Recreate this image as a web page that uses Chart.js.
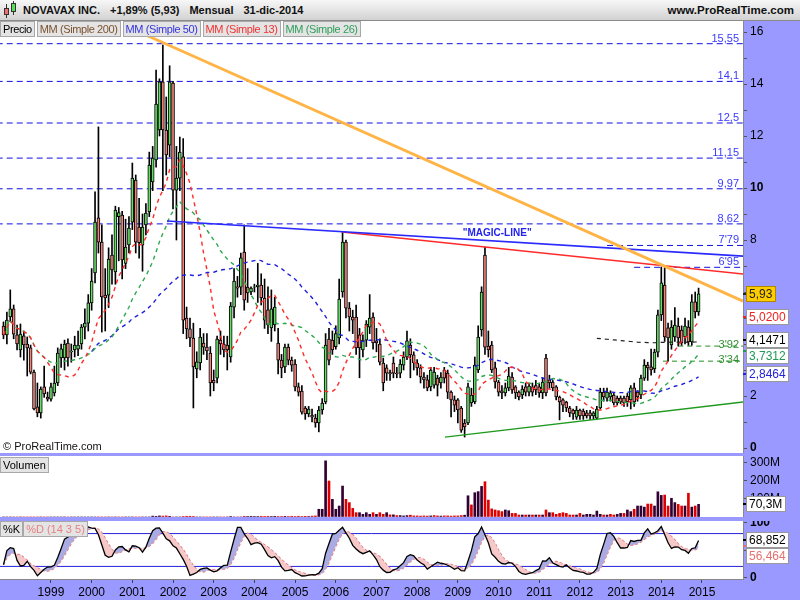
<!DOCTYPE html>
<html>
<head>
<meta charset="utf-8">
<title>NOVAVAX INC. - Mensual</title>
<script src="https://cdn.jsdelivr.net/npm/chart.js@4.4.1/dist/chart.umd.min.js"></script>
<style>
  body { margin:0; width:800px; height:600px; overflow:hidden; position:relative; background:#9999ff; font-family:"Liberation Sans", Arial, sans-serif; }
  #top { position:absolute; left:0; top:0; width:800px; height:21px; background:linear-gradient(#f7f7f7,#d2d2d2); border-bottom:1px solid #8a8a8a; box-sizing:border-box; }
  #title { position:absolute; left:23px; top:4px; font-size:11px; font-weight:bold; color:#111; white-space:nowrap; }
  #title span { margin-right:10px; }
  #site { position:absolute; right:6px; top:4px; font-size:11.5px; font-weight:bold; color:#111; }
  .ico { position:absolute; box-sizing:border-box; border:1px solid #333; }
  .wk { position:absolute; width:1px; background:#333; }
  canvas { position:absolute; left:0; }
  .boxes { position:absolute; left:0; display:flex; z-index:2; }
  .box { height:16px; line-height:15px; font-size:11px; letter-spacing:-0.4px; padding:0 2px; margin-right:2px; background:#e4e4e4; border:1px solid #a8a8a8; box-sizing:border-box; white-space:nowrap; }
  #copy { position:absolute; left:3px; top:440px; font-size:11px; color:#111; z-index:2; }
</style>
</head>
<body>
<div id="top">
  <div class="wk" style="left:6px;top:4px;height:14px"></div>
  <div class="ico" style="left:4px;top:8px;width:5px;height:7px;background:#f07070"></div>
  <div class="wk" style="left:13px;top:1px;height:14px"></div>
  <div class="ico" style="left:11px;top:3px;width:5px;height:9px;background:#55dd55"></div>
  <div id="title"><span>NOVAVAX INC.</span><span>+1,89% (5,93)</span><span>Mensual</span><span>31-dic-2014</span></div>
  <div id="site">www.ProRealTime.com</div>
</div>
<div class="boxes" style="top:21px">
  <div class="box" style="color:#000">Precio</div>
  <div class="box" style="color:#7a5230">MM (Simple 200)</div>
  <div class="box" style="color:#3333dd">MM (Simple 50)</div>
  <div class="box" style="color:#ee3333">MM (Simple 13)</div>
  <div class="box" style="color:#2e9e5a">MM (Simple 26)</div>
</div>
<div id="copy">© ProRealTime.com</div>
<div class="boxes" style="top:457px"><div class="box" style="letter-spacing:0">Volumen</div></div>
<div class="boxes" style="top:521px"><div class="box" style="margin-right:0;letter-spacing:0">%K</div><div class="box" style="color:#e88080;letter-spacing:0">%D (14 3 5)</div></div>

<canvas id="price" width="800" height="432" style="top:21px"></canvas>
<canvas id="vol" width="800" height="61" style="top:456px"></canvas>
<canvas id="stoch" width="800" height="79" style="top:521px"></canvas>

<script>
// Monthly candles, Nov 1997 .. Dec 2014 (one row per calendar year)
const opens = [
  4.69, 4.35,
  5.04, 5.35, 4.35, 3.77, 4.31, 4.0, 3.85, 2.92, 1.58, 1.35, 2.35, 1.96,
  1.88, 2.12, 2.5, 3.46, 3.46, 4.04, 3.7, 3.77, 3.8, 4.0, 4.65, 4.8,
  5.58, 6.73, 8.85, 7.92, 5.88, 5.88, 7.42, 6.77, 8.9, 8.96, 7.1, 7.81,
  8.69, 10.3, 8.5, 7.8, 8.58, 9.08, 10.23, 11.08, 12.23, 14.08, 12.23, 11.65,
  14.04, 9.92, 10.38, 11.2, 5.0, 4.58, 4.23, 3.04, 3.27, 4.04, 3.88, 3.65,
  2.6, 2.69, 4.15, 4.0, 3.96, 3.5, 5.42, 6.2, 6.19, 7.54, 6.19, 6.0,
  6.19, 6.2, 6.27, 5.77, 5.31, 4.62, 4.73, 4.04, 3.38, 3.12, 3.88, 3.38,
  3.23, 2.35, 2.19, 1.54, 1.31, 1.27, 1.15, 0.96, 1.46, 1.77, 4.19, 4.15,
  3.9, 4.23, 6.0, 7.92, 5.38, 5.04, 5.04, 4.35, 3.77, 4.15, 4.65, 5.04,
  4.12, 4.0, 3.27, 3.08, 2.9, 3.27, 2.88, 2.88, 3.19, 3.5, 3.96, 3.58,
  3.27, 3.08, 2.73, 2.62, 2.35, 2.42, 2.69, 2.5, 3.0, 2.88, 2.15, 1.85,
  1.85, 1.54, 0.96, 0.96, 1.73, 1.77, 3.0, 4.54, 7.42, 3.92, 3.96, 3.08,
  2.54, 2.2, 2.12, 2.31, 2.73, 2.35, 2.15, 2.04, 2.35, 2.15, 2.35, 2.4,
  2.35, 2.12, 3.46, 2.62, 2.54, 2.35, 1.96, 1.85, 1.77, 1.54, 1.46, 1.19,
  1.46, 1.42, 1.35, 1.35, 1.23, 1.15, 1.54, 2.15, 1.92, 1.96, 2.04, 1.92,
  1.92, 1.92, 2.0, 1.85, 2.31, 2.15, 2.04, 2.69, 3.19, 3.12, 3.04, 3.69,
  5.12, 6.27, 4.62, 3.96, 4.27, 4.69, 4.54, 4.27, 4.65, 4.08, 5.62, 5.23
];
const highs = [
  4.85, 5.23,
  6.08, 5.5, 4.73, 4.77, 4.5, 4.27, 3.96, 3.0, 2.5, 2.35, 3.15, 2.15,
  2.5, 3.15, 3.85, 4.0, 4.15, 4.2, 4.0, 4.3, 4.5, 4.75, 5.35, 5.9,
  6.9, 9.85, 12.35, 8.58, 6.9, 7.7, 8.2, 9.3, 9.25, 9.1, 8.8, 8.9,
  10.96, 10.5, 9.6, 9.0, 9.4, 11.38, 11.6, 14.54, 14.2, 15.5, 13.5, 14.7,
  14.1, 11.6, 11.96, 11.9, 5.42, 5.0, 4.8, 3.7, 4.6, 4.4, 4.4, 3.9,
  3.0, 4.3, 4.5, 4.3, 4.3, 5.6, 6.9, 6.6, 7.5, 8.58, 6.9, 6.2,
  6.3, 7.1, 6.7, 6.5, 6.2, 6.08, 5.8, 4.6, 3.6, 4.0, 4.0, 3.5,
  3.4, 2.5, 2.4, 1.6, 1.6, 1.5, 1.3, 1.6, 1.9, 4.4, 4.6, 4.5,
  4.7, 6.5, 8.31, 8.0, 5.6, 5.3, 5.5, 4.6, 4.35, 4.9, 5.9, 5.2,
  4.6, 4.2, 3.46, 3.2, 3.0, 3.5, 3.1, 3.4, 3.7, 4.5, 4.2, 3.7,
  3.4, 3.2, 2.9, 2.8, 3.1, 3.1, 2.8, 2.9, 3.1, 3.0, 2.2, 2.0,
  1.9, 1.6, 1.1, 2.5, 2.3, 3.5, 4.7, 6.2, 7.73, 4.5, 4.1, 3.3,
  2.6, 2.4, 2.5, 3.1, 2.9, 2.4, 2.2, 2.4, 2.5, 2.5, 2.5, 2.6,
  2.5, 2.7, 3.6, 2.8, 2.6, 2.4, 2.0, 1.9, 1.8, 1.6, 1.5, 1.6,
  1.5, 1.5, 1.45, 1.45, 1.4, 1.6, 2.3, 2.3, 2.3, 2.2, 2.1, 2.0,
  2.0, 2.0, 2.1, 2.4, 2.5, 2.2, 2.8, 3.4, 3.3, 3.8, 3.8, 5.3,
  6.96, 6.92, 4.8, 4.9, 5.4, 5.0, 4.7, 5.0, 4.9, 5.9, 6.0, 6.15
];
const lows = [
  4.2, 4.0,
  4.85, 4.2, 3.77, 3.5, 3.38, 2.77, 2.85, 1.46, 1.2, 1.15, 1.95, 1.8,
  1.8, 2.0, 2.4, 3.1, 3.0, 3.15, 3.3, 3.5, 3.55, 3.8, 4.2, 4.5,
  5.3, 6.35, 7.5, 4.46, 4.5, 5.4, 6.3, 6.3, 7.2, 6.5, 6.9, 7.5,
  8.4, 7.5, 7.3, 6.8, 8.2, 8.9, 9.9, 10.8, 12.0, 9.9, 10.5, 11.2,
  9.2, 8.0, 9.9, 4.4, 4.2, 3.9, 1.54, 2.7, 3.0, 3.6, 3.4, 2.0,
  2.2, 2.5, 3.6, 3.5, 3.0, 3.3, 5.0, 5.8, 5.9, 5.3, 5.6, 5.9,
  6.0, 5.6, 5.5, 4.6, 4.4, 4.1, 4.5, 2.85, 2.7, 2.9, 3.2, 2.95,
  2.2, 2.0, 1.3, 1.1, 1.2, 1.0, 0.8, 0.62, 1.3, 1.7, 3.2, 3.6,
  3.8, 4.0, 5.8, 5.0, 4.5, 4.4, 3.6, 2.7, 3.5, 3.9, 4.4, 3.8,
  3.7, 3.2, 2.2, 2.6, 2.6, 2.7, 2.7, 2.7, 3.0, 3.4, 2.7, 3.0,
  2.8, 2.5, 2.3, 2.2, 2.2, 2.3, 2.0, 2.3, 2.5, 1.9, 1.2, 1.4,
  0.96, 0.6, 0.42, 0.9, 1.6, 1.7, 2.9, 4.3, 3.6, 3.5, 2.9, 2.3,
  2.0, 1.9, 2.0, 2.2, 2.1, 1.9, 1.85, 1.9, 2.0, 2.0, 2.0, 2.05,
  1.95, 1.9, 2.0, 2.3, 2.2, 1.85, 1.08, 1.4, 1.4, 1.2, 1.1, 1.1,
  1.1, 1.1, 1.15, 1.1, 1.1, 1.1, 1.5, 1.8, 1.8, 1.8, 1.65, 1.65,
  1.7, 1.6, 1.6, 1.5, 1.6, 1.8, 1.9, 2.6, 2.6, 2.8, 2.9, 3.5,
  4.9, 4.1, 3.34, 3.8, 4.1, 3.92, 3.95, 4.0, 3.95, 3.95, 5.0, 5.1
];
const closes = [
  4.35, 4.92,
  5.35, 4.38, 4.0, 4.38, 3.96, 3.85, 2.92, 1.5, 1.35, 2.27, 2.08, 1.88,
  2.35, 2.5, 3.65, 3.81, 4.0, 3.46, 3.73, 3.96, 3.96, 4.65, 4.8, 5.58,
  6.42, 8.69, 7.92, 5.81, 5.77, 7.27, 6.85, 9.15, 9.05, 7.23, 7.73, 8.46,
  10.38, 7.92, 7.9, 8.5, 9.04, 10.88, 11.15, 13.23, 14.08, 12.23, 11.27, 14.08,
  9.92, 10.38, 11.38, 4.92, 4.58, 4.23, 3.12, 3.31, 4.27, 3.88, 3.73, 2.5,
  2.5, 4.19, 4.0, 3.77, 3.77, 5.46, 6.42, 6.15, 7.31, 5.69, 5.96, 6.15,
  6.2, 6.27, 5.77, 4.92, 4.73, 5.35, 5.42, 3.38, 3.08, 3.88, 3.38, 3.19,
  2.35, 2.15, 1.38, 1.31, 1.5, 1.19, 0.96, 1.46, 1.73, 3.96, 3.38, 3.77,
  4.4, 5.73, 7.92, 5.38, 5.04, 4.92, 3.85, 3.85, 4.15, 4.77, 5.0, 4.04,
  4.04, 3.3, 2.5, 2.88, 2.85, 2.88, 2.85, 3.23, 3.5, 4.12, 3.58, 3.27,
  3.08, 2.73, 2.62, 2.31, 3.0, 2.92, 2.42, 2.73, 2.69, 2.15, 1.85, 1.65,
  1.46, 0.69, 0.81, 2.35, 2.04, 3.19, 4.27, 6.0, 3.88, 3.77, 3.0, 2.54,
  2.15, 2.12, 2.31, 2.77, 2.23, 2.12, 1.96, 2.27, 2.15, 2.38, 2.15, 2.23,
  2.12, 2.54, 2.12, 2.5, 2.31, 1.96, 1.77, 1.65, 1.54, 1.35, 1.31, 1.46,
  1.23, 1.23, 1.23, 1.23, 1.35, 1.5, 2.15, 1.96, 2.15, 2.12, 1.73, 1.73,
  1.77, 1.73, 1.77, 2.31, 1.77, 1.96, 2.69, 3.19, 3.08, 3.0, 3.69, 5.12,
  6.35, 4.27, 4.23, 4.65, 4.73, 4.23, 4.04, 4.69, 4.08, 5.62, 5.23, 5.93
];
// volume in millions of shares
const volumes = [
  0, 0,
  0, 0, 0, 0, 0, 0, 0, 0, 0, 0, 0, 0,
  0, 0, 0, 0, 0, 0, 0, 0, 0, 0, 0, 0,
  0, 0, 0, 0, 0, 0, 0, 0, 0, 0, 0, 0,
  0, 0, 0, 0, 0, 0, 5, 4, 6, 5, 6, 4,
  0, 0, 0, 3, 4, 4, 3, 0, 0, 0, 0, 0,
  0, 0, 0, 0, 0, 3, 0, 0, 0, 4, 3, 4,
  3, 3, 4, 3, 4, 3, 4, 3, 3, 4, 3, 4,
  3, 4, 3, 4, 3, 5, 6, 43, 43, 312, 200, 98,
  43, 61, 172, 98, 80, 48, 24, 24, 15, 24, 15, 24,
  15, 24, 15, 24, 12, 12, 8, 8, 6, 8, 10, 6,
  6, 5, 6, 5, 6, 8, 6, 5, 6, 6, 5, 6,
  6, 8, 10, 118, 67, 135, 141, 170, 196, 94, 45, 39,
  35, 30, 39, 35, 20, 20, 11, 11, 11, 11, 11, 11,
  11, 11, 39, 24, 24, 15, 20, 24, 20, 11, 11, 11,
  20, 11, 15, 15, 11, 33, 15, 11, 11, 15, 11, 15,
  20, 20, 39, 30, 43, 61, 61, 55, 72, 72, 61, 140,
  120, 122, 61, 104, 80, 70, 61, 61, 132, 55, 61, 70.3
];
const years = ['1999','2000','2001','2002','2003','2004','2005','2006','2007','2008','2009','2010','2011','2012','2013','2014','2015'];
const priceTickLabels = [16, 14, 12, 10, 8, 2, 0];
const volTickLabels = [300, 200, 100];
const stochTickLabels = [100, 0];

// horizontal levels drawn on the chart (value, label, first month index)
const levelValues = [15.55, 14.1, 12.5, 11.15, 9.97, 8.62, 7.79, 6.95];
const levelLabels = ['15,55', '14,1', '12,5', '11,15', '9,97', '8,62', "7'79", "6'95"];
const levelFrom = [-2, -2, -2, -2, -2, -2, 178, 186];
const supportValues = [3.92, 3.34];
const supportLabels = ["3'92", "3'34"];
const supportFrom = [199, 194.5];

// trend lines: [month index, price] pairs
const orangeLine = [[40, 16.0], [218.1, 5.65]];
const magicLine = [[48.2, 8.73], [218.1, 7.38]];
const redLine = [[99.8, 8.31], [218.1, 6.69]];
const greenLine = [[130.2, 0.42], [218.1, 1.77]];
const magicLabel = [145.6, 8.27];

// last values shown on the right axis
const priceTagTexts = ['5,93', '5,0200', '4,1471', '3,7312', '2,8464'];
const priceTagValues = [5.93, 5.02, 4.1471, 3.7312, 2.8464];
const volTagTexts = ['70,3M'];
const volTagValues = [70.3];
const stochTagTexts = ['68,852', '56,464'];
const stochTagValues = [68.852, 56.464];

// ---------------------------------------------------------------
Chart.defaults.font.family = '"Liberation Sans", Arial, sans-serif';
Chart.defaults.font.size = 12;
Chart.defaults.color = '#000';

const X_MIN = -1.03, X_MAX = 218.1;
const idx = closes.map((c, i) => i);
const yearIndex = y => (y - 1997) * 12 - 10;   // Nov 1997 is month 0

function sma(src, n, from) {
  return src.map((v, i) => {
    if (i < from) return null;
    const s = Math.max(0, i - n + 1);
    let sum = 0;
    for (let k = s; k <= i; k++) sum += src[k];
    return sum / (i - s + 1);
  });
}
const pts = arr => arr.map((v, i) => ({ x: i, y: v })).filter(p => p.y !== null);
const seg = pair => pair.map(p => ({ x: p[0], y: p[1] }));

const ma13 = sma(closes, 13, 0);
const ma26 = sma(closes, 26, 2);
const ma50 = sma(closes, 50, 26);
const ma200 = sma(closes, 200, 175);

// stochastic 14 / 3 / 5
const rawK = closes.map((c, i) => {
  const s = Math.max(0, i - 13);
  const hh = Math.max(...highs.slice(s, i + 1));
  const ll = Math.min(...lows.slice(s, i + 1));
  return hh > ll ? 100 * (c - ll) / (hh - ll) : 50;
});
const kLine = sma(rawK, 3, 0);
const dLine = sma(kLine, 5, 0);

function xAxis(show) {
  return {
    type: 'linear', min: X_MIN, max: X_MAX, offset: false, display: show,
    grid: { drawOnChartArea: false, drawTicks: true, tickLength: 4, color: '#444', offset: false },
    border: { display: true, color: '#888' },
    ticks: { includeBounds: false, autoSkip: false, maxRotation: 0, padding: 2, color: '#000',
             font: { size: 12 }, callback: (v, i) => years[i] },
    afterBuildTicks: s => { s.ticks = years.map(y => ({ value: yearIndex(+y) })); },
    afterFit: s => { s.height = show ? 21 : 0; s.paddingLeft = 0; s.paddingRight = 0; }
  };
}

function rightAxis(min, max, step, labelFn, boldFn) {
  return {
    position: 'right', min: min, max: max,
    ticks: {
      stepSize: step, includeBounds: false, autoSkip: false, padding: 3, color: '#000',
      font: ctx => ({ size: 12, weight: boldFn && ctx.tick && boldFn(ctx.tick.value) ? 'bold' : 'normal' }),
      callback: labelFn
    },
    grid: { drawOnChartArea: false, drawTicks: true, tickLength: 4, color: '#555' },
    border: { display: true, color: '#888' },
    afterFit: s => { s.width = 57; s.paddingTop = 0; s.paddingBottom = 0; }
  };
}

const panelBg = {
  id: 'panelBg',
  beforeDraw(chart) {
    const { ctx, chartArea: a } = chart;
    ctx.save();
    ctx.fillStyle = '#fff';
    ctx.fillRect(a.left, a.top, a.right - a.left, a.bottom - a.top);
    ctx.restore();
  }
};

function drawTags(chart, scale, values, texts, fg, bg, border) {
  const ctx = chart.ctx;
  const left = chart.chartArea.right + 3;
  ctx.save();
  ctx.font = '12px "Liberation Sans", Arial, sans-serif';
  ctx.textBaseline = 'middle';
  const order = values.map((v, k) => k).sort((a, b) => values[b] - values[a]);
  let prevBottom = -Infinity;
  order.forEach(k => {
    const py = scale.getPixelForValue(values[k]);
    const top = Math.round(Math.max(py - 8, prevBottom));
    const w = Math.ceil(ctx.measureText(texts[k]).width) + 6;
    ctx.fillStyle = fg[k];
    ctx.fillRect(chart.chartArea.right, Math.round(py) - 1, 3, 2);
    ctx.fillStyle = bg[k];
    ctx.fillRect(left, top, w, 16);
    ctx.strokeStyle = border[k];
    ctx.lineWidth = 1;
    ctx.strokeRect(left + 0.5, top + 0.5, w - 1, 15);
    ctx.fillStyle = fg[k];
    ctx.fillText(texts[k], left + 3, top + 8.5);
    prevBottom = top + 16;
  });
  ctx.restore();
}

const priceNotes = {
  id: 'priceNotes',
  afterDatasetsDraw(chart) {
    const { ctx, scales: { x, y } } = chart;
    ctx.save();
    ctx.font = '11px "Liberation Sans", Arial, sans-serif';
    ctx.textAlign = 'right';
    ctx.textBaseline = 'bottom';
    ctx.fillStyle = '#3a3aff';
    levelValues.forEach((v, k) => ctx.fillText(levelLabels[k], 739, y.getPixelForValue(v) + 0.5));
    ctx.fillStyle = '#2f8f2f';
    ctx.textBaseline = 'middle';
    supportValues.forEach((v, k) => ctx.fillText(supportLabels[k], 739, y.getPixelForValue(v) - 1));
    ctx.font = 'bold 10px "Liberation Sans", Arial, sans-serif';
    ctx.textAlign = 'center';
    ctx.fillStyle = '#2222ee';
    ctx.fillText('"MAGIC-LINE"', x.getPixelForValue(magicLabel[0]), y.getPixelForValue(magicLabel[1]));
    ctx.restore();
  },
  afterDraw(chart) {
    drawTags(chart, chart.scales.y, priceTagValues, priceTagTexts,
      ['#222', '#ee2222', '#000', '#1f9a55', '#2222dd'],
      ['#ffcc00', '#fff', '#fff', '#fff', '#fff'],
      ['#b08800', '#999', '#999', '#999', '#999']);
  }
};

const common = {
  responsive: false, animation: false, events: [],
  layout: { padding: 0 },
  plugins: { legend: { display: false }, tooltip: { enabled: false } }
};

const UP = '#66dd66', DOWN = '#f4827a';

const levelSets = levelValues.map((v, k) => ({
  type: 'line', data: [{ x: levelFrom[k], y: v }, { x: X_MAX, y: v }],
  borderColor: '#1010e0', borderWidth: 1, borderDash: [6, 4], pointRadius: 0, order: 9
}));
const supportSets = supportValues.map((v, k) => ({
  type: 'line', data: [{ x: supportFrom[k], y: v }, { x: X_MAX, y: v }],
  borderColor: '#1f8f1f', borderWidth: 1, borderDash: [5, 4], pointRadius: 0, order: 9
}));

new Chart(document.getElementById('price'), {
  type: 'bar',
  data: {
    datasets: [
      { label: 'wick', data: idx.map(i => ({ x: i, y: [lows[i], highs[i]] })),
        backgroundColor: '#000', barThickness: 1, grouped: false, order: 6 },
      { label: 'body', data: idx.map(i => ({ x: i, y: [opens[i], closes[i]] })),
        backgroundColor: idx.map(i => closes[i] >= opens[i] ? UP : DOWN),
        borderColor: '#000', borderWidth: 1, borderSkipped: false, barThickness: 3, grouped: false, order: 5 },
      { type: 'line', data: pts(ma13), borderColor: '#ff2a2a', borderWidth: 1.4, borderDash: [4, 4], pointRadius: 0, order: 3 },
      { type: 'line', data: pts(ma26), borderColor: '#2ea84e', borderWidth: 1.4, borderDash: [4, 4], pointRadius: 0, order: 3 },
      { type: 'line', data: pts(ma50), borderColor: '#2020dd', borderWidth: 1.4, borderDash: [4, 4], pointRadius: 0, order: 3 },
      { type: 'line', data: pts(ma200), borderColor: '#222', borderWidth: 1.2, borderDash: [4, 4], pointRadius: 0, order: 3 },
      { type: 'line', data: seg(orangeLine), borderColor: '#ffb445', borderWidth: 3, pointRadius: 0, order: 1 },
      { type: 'line', data: seg(magicLine), borderColor: '#2a2aff', borderWidth: 1.6, pointRadius: 0, order: 1 },
      { type: 'line', data: seg(redLine), borderColor: '#ff2a2a', borderWidth: 1.6, pointRadius: 0, order: 1 },
      { type: 'line', data: seg(greenLine), borderColor: '#1f9a1f', borderWidth: 1.4, pointRadius: 0, order: 1 },
      ...levelSets, ...supportSets
    ]
  },
  options: Object.assign({}, common, {
    scales: {
      x: xAxis(false),
      y: rightAxis(-5 / 26, 427 / 26, 1,
        v => priceTickLabels.includes(v) ? String(v) : '',
        v => v === 10 || v === 0)
    }
  }),
  plugins: [panelBg, priceNotes]
});

new Chart(document.getElementById('vol'), {
  type: 'bar',
  data: {
    datasets: [{
      data: idx.map(i => ({ x: i, y: volumes[i] })),
      backgroundColor: idx.map(i => i > 0 && closes[i] < closes[i - 1] ? '#dd0000' : '#330033'),
      barThickness: 2, grouped: false
    }]
  },
  options: Object.assign({}, common, {
    scales: {
      x: xAxis(false),
      y: rightAxis(0, 61 / 18 * 100, 100, v => volTickLabels.includes(v) ? v + 'M' : '')
    }
  }),
  plugins: [panelBg, {
    id: 'volTag',
    afterDraw(chart) {
      drawTags(chart, chart.scales.y, volTagValues, volTagTexts, ['#000'], ['#fff'], ['#999']);
    }
  }]
});

new Chart(document.getElementById('stoch'), {
  type: 'line',
  data: {
    datasets: [
      { data: pts(kLine), borderColor: '#000', borderWidth: 1.3, pointRadius: 0,
        fill: { target: 1, above: '#a9abe2', below: '#f6c8c8' }, order: 1 },
      { data: pts(dLine), borderColor: '#e87070', borderWidth: 1.3, borderDash: [3, 2], pointRadius: 0, order: 2 },
      { data: [{ x: X_MIN, y: 80 }, { x: X_MAX, y: 80 }], borderColor: '#2222dd', borderWidth: 1, pointRadius: 0, order: 3 },
      { data: [{ x: X_MIN, y: 20 }, { x: X_MAX, y: 20 }], borderColor: '#2222dd', borderWidth: 1, pointRadius: 0, order: 3 }
    ]
  },
  options: Object.assign({}, common, {
    scales: {
      x: xAxis(true),
      y: rightAxis(-3, 103, 50, v => stochTickLabels.includes(v) ? String(v) : '', v => true)
    }
  }),
  plugins: [panelBg, {
    id: 'stochTag',
    afterDraw(chart) {
      drawTags(chart, chart.scales.y, stochTagValues, stochTagTexts, ['#000', '#e87070'], ['#fff', '#fff'], ['#999', '#999']);
    }
  }]
});
</script>
</body>
</html>
